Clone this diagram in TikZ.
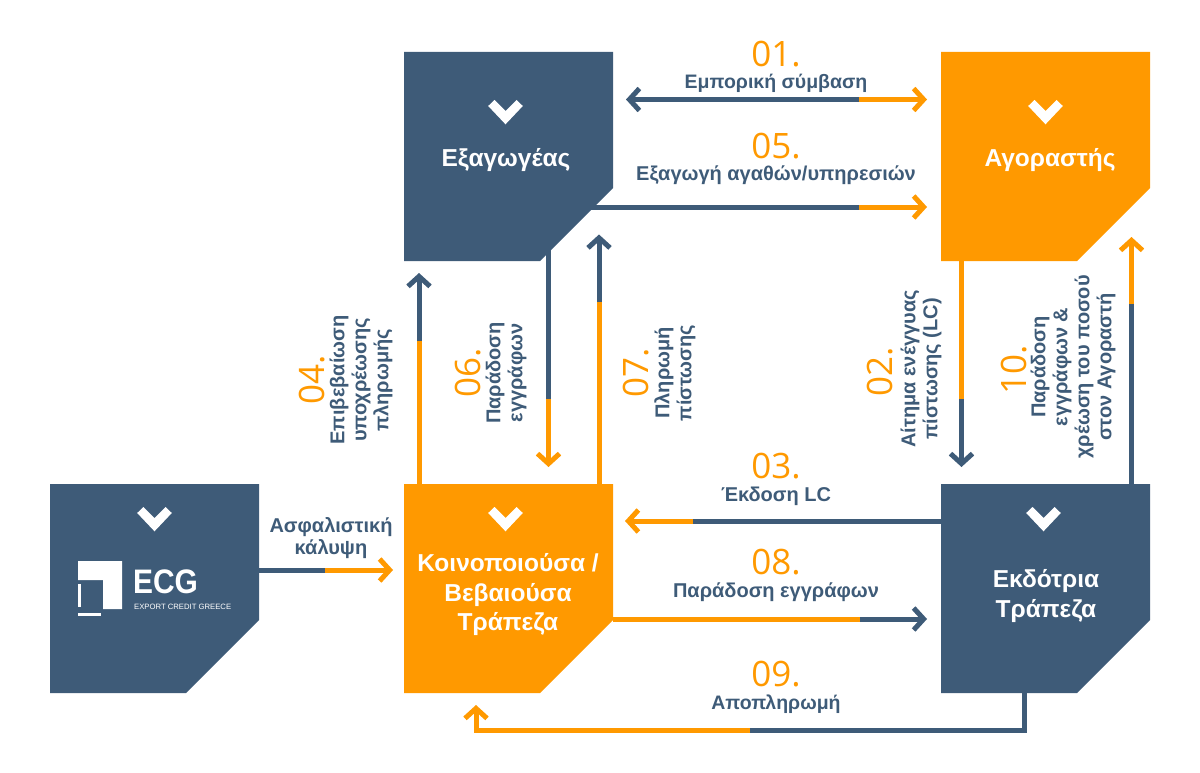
\documentclass[tikz,border=0pt]{standalone}
\usepackage{fontspec}
\setmainfont{Liberation Sans}
\newfontfamily\numfont{Open Sans}
\usetikzlibrary{arrows.meta}
\definecolor{navy}{HTML}{3E5B78}
\definecolor{amber}{HTML}{FF9900}
\begin{document}
\begin{tikzpicture}[x=1pt,y=-1pt]
                \tikzstyle{party}=[rectangle,minimum size=209pt,inner sep=0pt]
                \tikzstyle{party text}=[text=white,align=center,inner sep=0pt,font=\fontsize{24.5}{29.5}\selectfont\bfseries]
                \tikzstyle{caption}=[text=navy,align=center,font=\fontsize{20}{22}\selectfont\bfseries,inner sep=0pt]
                \tikzstyle{step num}=[text=amber,font=\fontsize{35}{35}\selectfont\numfont,inner sep=0pt]
                \tikzstyle{tip}=[-{Straight Barb[length=10pt,width=22pt,line width=5pt]}]
                \tikzstyle{line}=[line width=5pt]

                \useasboundingbox (0,0) rectangle (1200,773);

                % the five parties
                \foreach \name/\x/\y/\col in {exporter/404/52/navy, buyer/941/52/amber, insurer/50/484/navy, advising/404/484/amber, issuing/941/484/navy}
                {
                        \fill[\col] (\x,\y) -- ++(209,0) -- ++(0,136) -- ++(-73,73) -- ++(-136,0) -- cycle;
                        \node[party] (\name) at (\x+104.5,\y+104.5) {};
                }

                % colour changes and free ends
                \foreach \num/\x/\y in {1a/626/99.5, 1m/859/99.5, 1b/927/99.5,
                        5m/859/207, 5b/927/207,
                        2m/961.5/399, 2b/961.5/467,
                        3m/693/521, 3b/625/521,
                        4m/419/341, 4b/419/273,
                        6m/548.5/399, 6b/548.5/467,
                        7m/599/302, 7b/599/234.5,
                        8m/860/619, 8b/927/619,
                        10m/1131.5/304, 10b/1131.5/237,
                        im/325/570, ib/393/570,
                        9m/750/730}
                        \coordinate (P-\num) at (\x,\y);

                % two coloured connectors
                \foreach \num/\from/\first/\second in {5/exporter.center/navy/amber, 3/issuing.west/navy/amber, 8/advising.east/amber/navy, i/insurer.east/navy/amber}
                {
                        \draw[line,\first] (\from |- P-\num m) -- (P-\num m);
                        \draw[line,\second,tip] (P-\num m) -- (P-\num b);
                }
                \foreach \num/\from/\first/\second in {2/buyer.south/amber/navy, 4/advising.north/amber/navy, 6/exporter.center/navy/amber, 7/advising.north/amber/navy, 10/issuing.north/navy/amber}
                {
                        \draw[line,\first] (P-\num m |- \from) -- (P-\num m);
                        \draw[line,\second,tip] (P-\num m) -- (P-\num b);
                }
                \draw[line,navy,tip] (P-1m) -- (P-1a);
                \draw[line,amber,tip] (P-1m) -- (P-1b);

                \coordinate (P-9a) at (1024,693);
                \coordinate (P-9b) at (476,705);
                \draw[line,navy] (P-9a |- issuing.south) |- (P-9m);
                \draw[line,amber,tip] (P-9m) -| (P-9b);

                % party names
                \node[party text] (T-exporter) at (506,160) {Εξαγωγέας};
                \node[party text] (T-buyer) at (1050,160) {Αγοραστής};
                \node[party text] (T-advising) at (508,595) {Κοινοποιούσα /\\Βεβαιούσα\\Τράπεζα};
                \node[party text] (T-issuing) at (1046,596) {Εκδότρια\\Τράπεζα};

                % chevrons
                \foreach \x/\y in {505.5/100, 1045.5/100, 154.5/507, 505.5/507, 1043.5/507}
                        \fill[white] (\x-17.3,\y+6) -- (\x-11,\y) -- (\x,\y+11) -- (\x+11,\y) -- (\x+17.3,\y+6) -- (\x,\y+24.3) -- cycle;

                % logo
                \fill[white] (78,561) -- (122,561) -- (122,609) -- (103,609) -- (103,580) -- (78,580) -- cycle;
                \fill[white] (78,583.5) rectangle (81,606.5);
                \fill[white] (78,613) rectangle (101,616);
                \node[inner sep=0pt,text=white,anchor=west,xscale=0.88,transform shape,font=\fontsize{34}{34}\selectfont\bfseries] (ecg) at (133,581.5) {ECG};
                \node[inner sep=0pt,text=white,anchor=west,font=\fontsize{7.7}{9}\selectfont] (ecg-sub) at (134,606.5) {EXPORT CREDIT GREECE};

                % step numbers
                \foreach \num/\x/\y in {01./776/54, 05./776/146, 03./776/466, 08./776/562, 09./776/674}
                        \node[step num] (N-\num) at (\x,\y) {\num};
                \foreach \num/\x/\y in {04./312/380, 06./468/373, 07./636/373, 02./880/372, 10./1014/370}
                        \node[step num,rotate=90] (N-\num) at (\x,\y) {\num};

                % captions
                \node[caption,font=\fontsize{19.5}{22}\selectfont\bfseries] (C-1) at (776,83) {Εμπορική σύμβαση};
                \node[caption] (C-5) at (776,175) {Εξαγωγή αγαθών/υπηρεσιών};
                \node[caption] (C-3) at (776,496) {Έκδοση LC};
                \node[caption] (C-8) at (776,592) {Παράδοση εγγράφων};
                \node[caption,font=\fontsize{19.5}{22}\selectfont\bfseries] (C-9) at (776,704) {Αποπληρωμή};
                \node[caption] (C-i) at (331,538) {Ασφαλιστική\\κάλυψη};
                \node[caption,rotate=90] (C-4) at (361,380) {Επιβεβαίωση\\υποχρέωσης\\πληρωμής};
                \node[caption,rotate=90] (C-6) at (506,373) {Παράδοση\\εγγράφων};
                \node[caption,rotate=90] (C-7) at (675,373) {Πληρωμή\\πίστωσης};
                \node[caption,rotate=90] (C-2) at (921,369) {Αίτημα ενέγγυας\\πίστωσης (LC)};
                \node[caption,rotate=90] (C-10) at (1073,367) {Παράδοση\\εγγράφων \&\\χρέωση του ποσού\\στον Αγοραστή};
\end{tikzpicture}
\end{document}
